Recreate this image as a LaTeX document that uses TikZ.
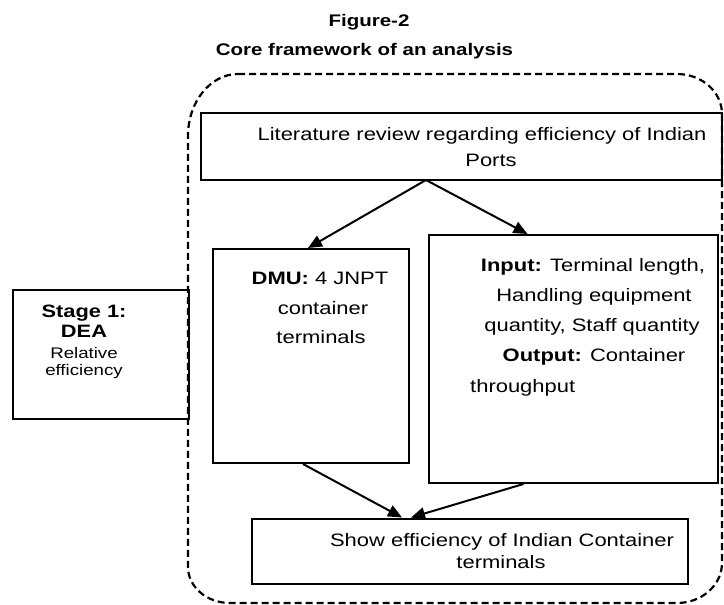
\documentclass[tikz,border=0pt]{standalone}
\usepackage{fontspec}
\setmainfont{Liberation Sans}[FakeStretch=1.22]
\usetikzlibrary{arrows.meta}
\tikzset{
  box/.style={draw=black, line width=2pt, inner sep=0pt, fill=none},
  txt/.style={anchor=base, inner sep=0pt, font=\fontsize{18}{22}\selectfont},
  ttl/.style={anchor=base, inner sep=0pt, font=\fontsize{16.8}{20}\selectfont\bfseries},
  stb/.style={anchor=base, inner sep=0pt, font=\fontsize{17.9}{21}\selectfont\bfseries},
  str/.style={anchor=base, inner sep=0pt, font=\fontsize{15.3}{18}\selectfont},
  arr/.style={line width=2pt, -{Triangle[length=14pt,width=12pt]}},
  frame/.style={draw=black, line width=2.2pt, dash pattern=on 7pt off 4pt}
}
\begin{document}
\begin{tikzpicture}[x=1pt,y=-1pt]
\useasboundingbox (0,0) rectangle (724,605);
% title
\node[ttl] (t1) at (369,27) {Figure-2};
\node[ttl] (t2) at (364.5,55) {Core framework of an analysis};
% dashed frame
\draw[frame] (238,74) -- (677,74)
  .. controls (701.8,74) and (722,91.9) .. (722,114)
  -- (722,563)
  .. controls (722,585.1) and (701.8,603) .. (677,603)
  -- (230,603)
  .. controls (206.8,603) and (188,586.9) .. (188,567)
  -- (188,136)
  .. controls (188,101.8) and (210.4,74) .. (238,74) -- cycle;
% boxes
\node[box, minimum width=521pt, minimum height=67pt] (lit) at (461.5,146.5) {};
\node[box, minimum width=196pt, minimum height=214pt] (dmu) at (311,356) {};
\node[box, minimum width=289pt, minimum height=248pt] (rbox) at (573.5,359) {};
\node[box, minimum width=436pt, minimum height=65pt] (show) at (470,551) {};
\node[box, minimum width=176pt, minimum height=129pt] (stage) at (101,354.5) {};
% texts
\node[txt] (l1) at (482,140) {Literature review regarding efficiency of Indian};
\node[txt] (l2) at (491,166) {Ports};
\node[txt] (d1) at (320,284) {\textbf{DMU:} 4 JNPT};
\node[txt] (d2) at (323,314) {container};
\node[txt] (d3) at (321,343) {terminals};
\node[txt] (r1) at (593,271) {\textbf{Input:} Terminal length,};
\node[txt] (r2) at (594,301) {Handling equipment};
\node[txt] (r3) at (592,331) {quantity, Staff quantity};
\node[txt] (r4) at (594,361) {\textbf{Output:} Container};
\node[txt, anchor=base west] (r5) at (470,392) {throughput};
\node[txt] (s1) at (502,546) {Show efficiency of Indian Container};
\node[txt] (s2) at (501,568) {terminals};
\node[stb] (g1) at (84,317) {Stage 1:};
\node[stb] (g2) at (84,337) {DEA};
\node[str] (g3) at (84,358) {Relative};
\node[str] (g4) at (84,375) {efficiency};
% arrows
\coordinate (apex) at (426,180);
\draw[arr] (apex) -- ([xshift=-3pt]dmu.north);
\draw[arr] (apex) -- ([xshift=-46pt]rbox.north);
\draw[arr] ([xshift=-8pt]dmu.south) -- ([xshift=-68pt]show.north);
\draw[arr] ([xshift=-50pt]rbox.south) -- ([xshift=-59pt]show.north);
\end{tikzpicture}
\end{document}
